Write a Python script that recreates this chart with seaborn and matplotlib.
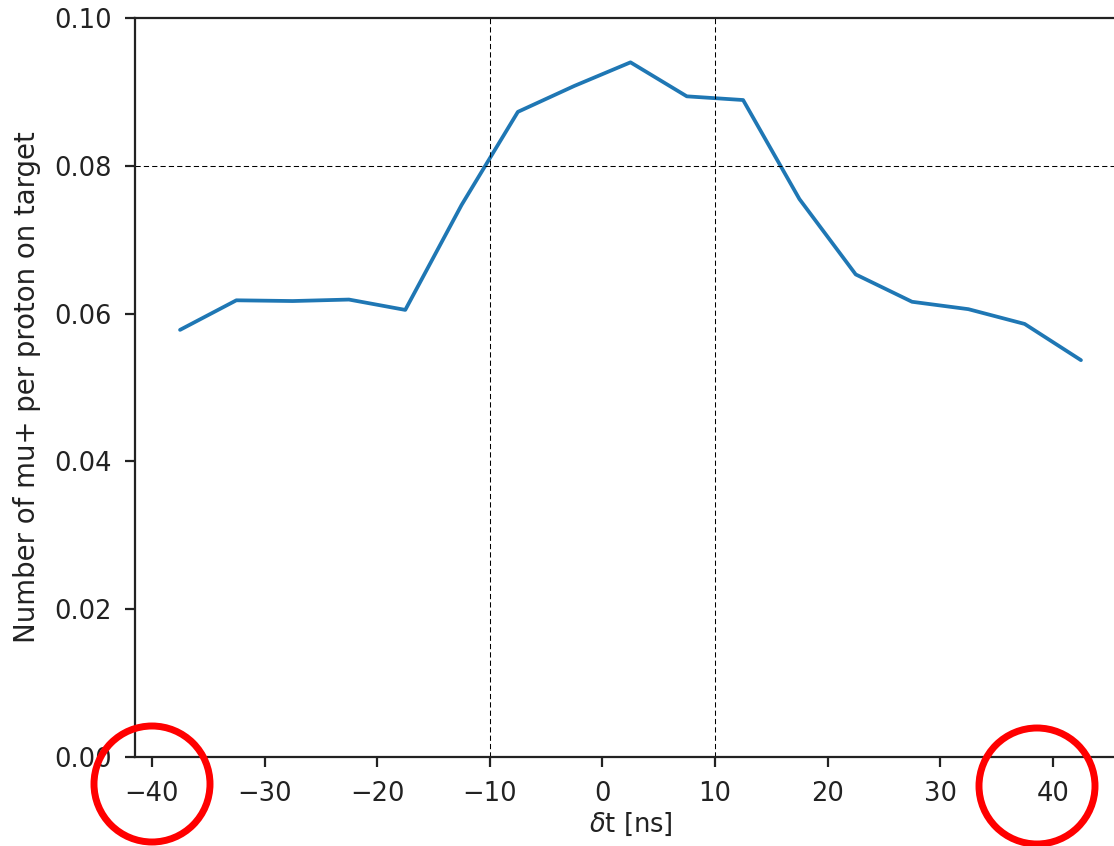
import matplotlib
matplotlib.use("Agg")
import matplotlib.pyplot as plt
import seaborn as sns
import pandas as pd
from matplotlib.patches import Ellipse

# Data
dt_ns = [-37.5, -32.5, -27.5, -22.5, -17.5, -12.5, -7.5, -2.5, 2.5,
         7.5, 12.5, 17.5, 22.5, 27.5, 32.5, 37.5, 42.5]
mu_per_pot = [0.0578, 0.0618, 0.0617, 0.0619, 0.0605, 0.0747, 0.0873, 0.0908, 0.0940,
              0.0894, 0.0889, 0.0755, 0.0653, 0.0616, 0.0606, 0.0586, 0.0537]
vlines_x = [-10, 10]
hline_y = 0.08
xticks = [-40, -30, -20, -10, 0, 10, 20, 30, 40]
yticks = [0.00, 0.02, 0.04, 0.06, 0.08, 0.10]

sns.set_style("ticks")
plt.rcParams['font.family'] = ['DejaVu Sans']

df = pd.DataFrame({"dt": dt_ns, "mu": mu_per_pot})

W, H = 1114, 846
fig = plt.figure(figsize=(W / 100, H / 100), dpi=100)
ax = fig.add_axes([135 / W, (H - 757) / H, (1126 - 135) / W, (757 - 18) / H])

sns.lineplot(data=df, x="dt", y="mu", ax=ax, color="#1f77b4", linewidth=2.7)

for xv in vlines_x:
    ax.axvline(xv, color="k", linestyle=(0, (5, 3)), linewidth=0.75)
ax.axhline(hline_y, color="k", linestyle=(0, (5, 3)), linewidth=0.75)

ax.set_xlim(-41.5, 46.5)
ax.set_ylim(0, 0.10)
ax.set_xticks(xticks)
ax.set_yticks(yticks)
ax.set_yticklabels([f"{v:.2f}" for v in yticks])
ax.set_xticklabels([str(v).replace("-", "\u2212") for v in xticks])
ax.tick_params(axis="both", labelsize=18.5, length=7.5, width=1.6, color="#222222",
               labelcolor="#222222", pad=9.5)
for s in ax.spines.values():
    s.set_linewidth(1.6)
    s.set_color("#222222")

ax.set_xlabel(r"$\delta$t [ns]", fontsize=18.5, color="#222222", labelpad=3)
ax.set_ylabel("Number of mu+ per proton on target", fontsize=19.9, color="#222222",
              labelpad=9)

# red annotation circles around the -40 and 40 tick labels (figure pixel positions)
for cx, cy in [(152, 784), (1037, 786)]:
    circ = Ellipse((cx / W, (H - cy) / H), 2 * 58 / W, 2 * 58 / H,
                   transform=fig.transFigure, fill=False, edgecolor="red",
                   linewidth=5, clip_on=False)
    fig.patches.append(circ)

fig.savefig("out.png", dpi=100)
